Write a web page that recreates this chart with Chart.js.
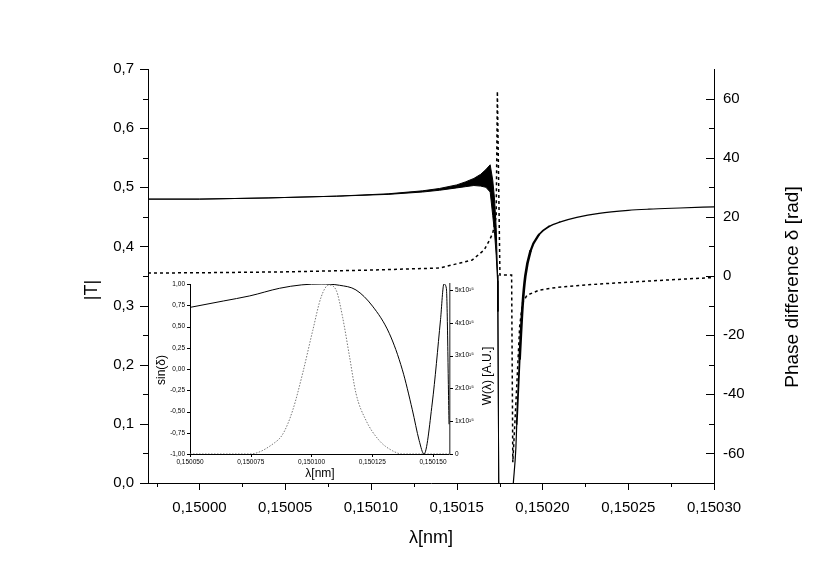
<!DOCTYPE html>
<html>
<head>
<meta charset="utf-8">
<script src="https://cdn.jsdelivr.net/npm/chart.js@4.4.0/dist/chart.umd.min.js"></script>
<style>
html,body{margin:0;padding:0;background:#fff;}
#wrap{position:relative;width:830px;height:580px;overflow:hidden;background:#fff;}
#main{position:absolute;left:0;top:0;}
#inset{position:absolute;left:150px;top:270px;}
</style>
</head>
<body>
<div id="wrap">
<canvas id="main" width="830" height="580"></canvas>
<canvas id="inset" width="350" height="215"></canvas>
</div>
<script>
// ---------------- data (main plot) ----------------
const lambdaBand = [0.14997, 0.15000, 0.15004, 0.15008, 0.15011, 0.15013, 0.15014, 0.15015, 0.150155, 0.15016, 0.150164, 0.150167, 0.1501695, 0.150171, 0.150172, 0.150173, 0.1501738, 0.150174, 0.1501745];
const tUpper     = [0.480, 0.480, 0.482, 0.485, 0.489, 0.494, 0.498, 0.504, 0.509, 0.515, 0.522, 0.530, 0.538, 0.512, 0.482, 0.432, 0.352, 0.29, 0.0];
const tLower     = [0.480, 0.480, 0.482, 0.485, 0.488, 0.492, 0.495, 0.499, 0.501, 0.503, 0.502, 0.500, 0.492, 0.452, 0.425, 0.385, 0.342, 0.29, 0.0];

const lambdaRight = [0.150183, 0.1501845, 0.150185, 0.1501867, 0.1501884, 0.150190, 0.150193, 0.150198, 0.150204, 0.150210, 0.150220, 0.150233, 0.150250, 0.150262, 0.150280, 0.150300];
const tRight      = [0.0, 0.06, 0.10, 0.21, 0.30, 0.35, 0.392, 0.42, 0.434, 0.441, 0.449, 0.456, 0.461, 0.463, 0.465, 0.467];

const lambdaPhase = [0.14997, 0.15000, 0.15005, 0.15010, 0.15014, 0.150152, 0.150159, 0.150166, 0.150169, 0.150171, 0.150173, 0.1501737, 0.1501752, 0.150182, 0.1501827, 0.1501848, 0.1501867, 0.1501884, 0.150191, 0.150198, 0.150209, 0.150233, 0.150262, 0.150300];
const phase       = [1.0, 1.1, 1.4, 2.0, 2.7, 4.4, 5.4, 8.8, 12, 14.5, 20, 62.5, 0.3, 0.3, -63, -39.5, -17, -9, -6.5, -4.8, -3.8, -2.7, -1.7, -0.5];

const xMajorTicks = [0.15000, 0.15005, 0.15010, 0.15015, 0.15020, 0.15025, 0.15030];
const xMinorTicks = [0.149975, 0.150025, 0.150075, 0.150125, 0.150175, 0.150225, 0.150275];
const tMajorTicks = [0, 0.1, 0.2, 0.3, 0.4, 0.5, 0.6, 0.7];
const tMinorTicks = [0.05, 0.15, 0.25, 0.35, 0.45, 0.55, 0.65];
const phaseMajorTicks = [-60, -40, -20, 0, 20, 40, 60];
const phaseMinorTicks = [-50, -30, -10, 10, 30, 50];

// ---------------- data (inset) ----------------
const insetLambdaSin = [0.150050, 0.1500637, 0.1500746, 0.1500869, 0.1500960, 0.1501040, 0.1501115, 0.1501183, 0.1501251, 0.1501320, 0.1501374, 0.1501415, 0.1501443, 0.1501463, 0.1501497, 0.1501531, 0.1501545, 0.1501555, 0.1501566];
const sinDelta       = [0.725, 0.80, 0.86, 0.95, 0.99, 1.0, 0.985, 0.93, 0.74, 0.42, -0.01, -0.48, -0.84, -1.0, -0.40, 0.58, 1.0, 0.95, -0.65];

const insetLambdaW = [0.150050, 0.150065, 0.1500746, 0.1500842, 0.1500883, 0.1500923, 0.1500964, 0.1501005, 0.1501040, 0.1501071, 0.1501101, 0.1501128, 0.1501156, 0.1501183, 0.1501224, 0.1501279, 0.1501333, 0.1501374, 0.1501566];
const wValues1e15  = [0, 0, 0, 0.31, 0.62, 1.34, 2.47, 3.76, 4.79, 5.15, 5.0, 4.17, 2.99, 1.85, 1.03, 0.41, 0.1, 0, 0];

const insetXTicks   = [0.150050, 0.150075, 0.150100, 0.150125, 0.150150];
const insetSinTicks = [-1, -0.75, -0.5, -0.25, 0, 0.25, 0.5, 0.75, 1];
const insetWTicks   = [0, 1, 2, 3, 4, 5];

// ---------------- helpers ----------------
const FONT = "'Liberation Sans', Arial, Helvetica, sans-serif";
const pts = (xs, ys) => xs.map((x, i) => ({x: x, y: ys[i]}));
const comma = (v, d) => v.toFixed(d).replace('.', ',');

function decorPlugin(cfg) {
  return {
    id: 'decor' + cfg.name,
    afterDraw(chart) {
      const ctx = chart.ctx, ca = chart.chartArea;
      ctx.save();
      ctx.strokeStyle = '#000';
      ctx.lineWidth = 1;
      cfg.ticks.forEach(t => {
        const s = chart.scales[t.scale];
        [[t.major, t.majorLen], [t.minor || [], t.minorLen]].forEach(pair => {
          const vals = pair[0], len = pair[1];
          vals.forEach(v => {
            const p = Math.round(s.getPixelForValue(v)) + 0.5;
            ctx.beginPath();
            if (s.isHorizontal()) {
              ctx.moveTo(p, ca.bottom);
              ctx.lineTo(p, ca.bottom + t.dir * len);
            } else {
              const x0 = t.side === 'right' ? ca.right : ca.left;
              ctx.moveTo(x0, p);
              ctx.lineTo(x0 + t.dir * len, p);
            }
            ctx.stroke();
          });
        });
      });
      cfg.titles.forEach(tt => {
        ctx.save();
        ctx.translate(tt.x(ca), tt.y(ca));
        ctx.rotate(-Math.PI / 2);
        ctx.font = tt.font;
        ctx.fillStyle = '#000';
        ctx.textAlign = 'center';
        ctx.textBaseline = 'middle';
        ctx.fillText(tt.text, 0, 0);
        ctx.restore();
      });
      ctx.restore();
    }
  };
}

const noGrid = { display: false, drawTicks: false };

// ---------------- main chart ----------------
new Chart(document.getElementById('main'), {
  type: 'line',
  data: {
    datasets: [
      { label: '|T| upper', data: pts(lambdaBand, tUpper), yAxisID: 'yT', borderColor: '#000', backgroundColor: '#000', borderWidth: 1, fill: '+1', tension: 0 },
      { label: '|T| lower', data: pts(lambdaBand, tLower), yAxisID: 'yT', borderColor: '#000', borderWidth: 1, fill: false, tension: 0 },
      { label: '|T| right', data: pts(lambdaRight, tRight), yAxisID: 'yT', borderColor: '#000', borderWidth: 1.2, fill: false, cubicInterpolationMode: 'monotone',
        borderCapStyle: 'round', borderJoinStyle: 'round',
        segment: { borderWidth: c => {
          const x = c.p0.parsed.x;
          if (x < 0.1501849) return 1.2;
          if (x < 0.1501866) return 1.8;
          if (x < 0.150193) return 2.6;
          if (x < 0.150198) return 2.2;
          if (x < 0.150204) return 1.7;
          if (x < 0.150210) return 1.4;
          return 1.2;
        } } },
      { label: 'δ', data: pts(lambdaPhase, phase), yAxisID: 'yP', borderColor: '#000', borderWidth: 1.5, borderDash: [3, 3], fill: false, tension: 0 }
    ]
  },
  options: {
    responsive: false,
    animation: false,
    events: [],
    layout: { padding: { top: 69, left: 0, right: 0, bottom: 0 } },
    elements: { point: { radius: 0 } },
    plugins: { legend: { display: false }, tooltip: { enabled: false } },
    scales: {
      x: {
        type: 'linear', min: 0.14997, max: 0.15030,
        afterBuildTicks: s => { s.ticks = xMajorTicks.map(v => ({ value: v })); },
        afterFit: s => { s.height = 97; },
        grid: noGrid,
        border: { display: true, color: '#000', width: 1 },
        ticks: { color: '#000', font: { family: FONT, size: 15 }, padding: 16, maxRotation: 0, autoSkip: false, callback: v => comma(v, 5) },
        title: { display: true, text: 'λ[nm]', color: '#000', font: { family: FONT, size: 18 }, padding: { top: 0, bottom: 31 } }
      },
      yT: {
        type: 'linear', position: 'left', min: 0, max: 0.7,
        afterBuildTicks: s => { s.ticks = tMajorTicks.map(v => ({ value: v })); },
        afterFit: s => { s.width = 148; },
        grid: noGrid,
        border: { display: true, color: '#000', width: 1 },
        ticks: { color: '#000', font: { family: FONT, size: 15 }, padding: 14, callback: v => comma(v, 1) }
      },
      yP: {
        type: 'linear', position: 'right', min: -70, max: 70,
        afterBuildTicks: s => { s.ticks = phaseMajorTicks.map(v => ({ value: v })); },
        afterFit: s => { s.width = 116; },
        grid: noGrid,
        border: { display: true, color: '#000', width: 1 },
        ticks: { color: '#000', font: { family: FONT, size: 15 }, padding: 9, callback: v => String(v) }
      }
    }
  },
  plugins: [decorPlugin({
    name: 'Main',
    ticks: [
      { scale: 'x', major: xMajorTicks, minor: xMinorTicks, dir: 1, majorLen: 7, minorLen: 4 },
      { scale: 'yT', side: 'left', major: tMajorTicks, minor: tMinorTicks, dir: -1, majorLen: 8, minorLen: 5 },
      { scale: 'yP', side: 'right', major: phaseMajorTicks, minor: phaseMinorTicks, dir: -1, majorLen: 8, minorLen: 5 }
    ],
    titles: [
      { text: '|T|', font: '18px ' + FONT, x: ca => ca.left - 56, y: ca => ca.top + 221 },
      { text: 'Phase difference δ [rad]', font: '19px ' + FONT, x: ca => ca.right + 79, y: ca => ca.top + 218 }
    ]
  })]
});

// ---------------- inset chart ----------------
new Chart(document.getElementById('inset'), {
  type: 'line',
  data: {
    datasets: [
      { label: 'sin(δ)', data: pts(insetLambdaSin, sinDelta), yAxisID: 'ySin', borderColor: '#000', borderWidth: 1, fill: false, cubicInterpolationMode: 'monotone' },
      { label: 'W(λ)', data: pts(insetLambdaW, wValues1e15), yAxisID: 'yW', borderColor: '#777', borderWidth: 1, borderDash: [1.5, 1.5], fill: false, cubicInterpolationMode: 'monotone' }
    ]
  },
  options: {
    responsive: false,
    animation: false,
    events: [],
    layout: { padding: { top: 14, left: 0, right: 0, bottom: 0 } },
    elements: { point: { radius: 0 } },
    plugins: { legend: { display: false }, tooltip: { enabled: false } },
    scales: {
      x: {
        type: 'linear', min: 0.150050, max: 0.150157,
        afterBuildTicks: s => { s.ticks = insetXTicks.map(v => ({ value: v })); },
        afterFit: s => { s.height = 31; },
        grid: noGrid,
        border: { display: true, color: '#000', width: 1 },
        ticks: { color: '#000', font: { family: FONT, size: 6.5 }, padding: 4, maxRotation: 0, autoSkip: false, callback: v => comma(v, 6) },
        title: { display: true, text: 'λ[nm]', color: '#000', font: { family: FONT, size: 12 }, padding: { top: 0, bottom: 4 } }
      },
      ySin: {
        type: 'linear', position: 'left', min: -1, max: 1,
        afterBuildTicks: s => { s.ticks = insetSinTicks.map(v => ({ value: v })); },
        afterFit: s => { s.width = 40; },
        grid: noGrid,
        border: { display: true, color: '#000', width: 1 },
        ticks: { color: '#000', font: { family: FONT, size: 6.5 }, padding: 5, callback: v => comma(v, 2) }
      },
      yW: {
        type: 'linear', position: 'right', min: 0, max: 5.18,
        afterBuildTicks: s => { s.ticks = insetWTicks.map(v => ({ value: v })); },
        afterFit: s => { s.width = 50; },
        grid: noGrid,
        border: { display: true, color: '#666', width: 1.5 },
        ticks: { color: '#000', font: { family: FONT, size: 6.5 }, padding: 5, callback: v => (v === 0 ? '0' : v + 'x10¹⁵') }
      }
    }
  },
  plugins: [decorPlugin({
    name: 'Inset',
    ticks: [
      { scale: 'x', major: insetXTicks, minor: [], dir: 1, majorLen: 3, minorLen: 0 },
      { scale: 'ySin', side: 'left', major: insetSinTicks, minor: [], dir: -1, majorLen: 3, minorLen: 0 },
      { scale: 'yW', side: 'right', major: insetWTicks, minor: [], dir: 1, majorLen: 3, minorLen: 0 }
    ],
    titles: [
      { text: 'sin(δ)', font: '12px ' + FONT, x: ca => ca.left - 28, y: ca => ca.top + 86 },
      { text: 'W(λ) [A.U.]', font: '12px ' + FONT, x: ca => ca.right + 38, y: ca => ca.top + 92 }
    ]
  })]
});
</script>
</body>
</html>
